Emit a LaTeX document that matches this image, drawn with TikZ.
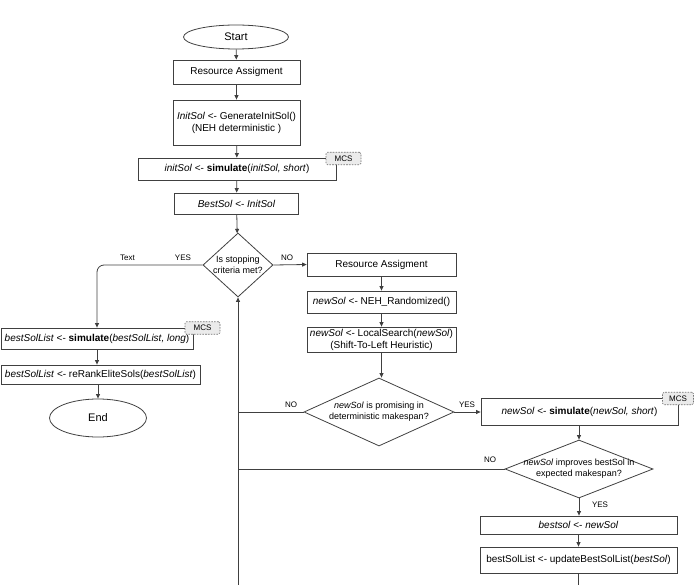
\documentclass[tikz,border=0pt]{standalone}
\usepackage{fontspec}
\setmainfont{Liberation Sans}
\usetikzlibrary{shapes.geometric,arrows.meta}
\begin{document}
\begin{tikzpicture}[x=1pt,y=-1pt,
  line/.style={draw=black!75, line width=0.8pt},
  arr/.style={line, -{Triangle[length=4.5pt,width=4pt]}},
  box/.style={line, rectangle, inner sep=0pt, align=center, font=\fontsize{10}{12}\selectfont},
  term/.style={line, ellipse, inner sep=0pt, font=\fontsize{11}{13}\selectfont},
  dec/.style={line, diamond, inner sep=0pt},
  dectext/.style={align=center, inner sep=0pt, font=\fontsize{9}{11}\selectfont},
  lbl/.style={inner sep=0pt, font=\fontsize{8}{10}\selectfont},
  tag/.style={draw=black!55, line width=0.6pt, dash pattern=on 1.6pt off 1.2pt, fill=black!8, rounded corners=1.5pt, inner sep=0pt, minimum height=12.5pt, font=\fontsize{8}{10}\selectfont}
]
\useasboundingbox (0,0) rectangle (696,585);

% main column
\node[term, minimum width=105pt, minimum height=24pt] (start) at (236,37) {Start};
\node[box, minimum width=127pt, minimum height=24pt] (ra1) at (236.5,72) {Resource Assigment};
\node[box, minimum width=127pt, minimum height=45pt] (init) at (236.5,122.5) {\textit{InitSol} <- GenerateInitSol()\\(NEH deterministic )};
\node[box, minimum width=198pt, minimum height=22pt] (sim1) at (237,169) {\textit{initSol} <- \textbf{simulate}(\textit{initSol, short})};
\node[box, minimum width=124pt, minimum height=21pt] (best) at (236.5,203.5) {\textit{BestSol} <- \textit{InitSol}};
\node[dec, minimum width=70pt, minimum height=64pt, label={[dectext]center:Is stopping\\criteria met?}] (d1) at (238,265) {};

% left branch
\node[box, minimum width=192pt, minimum height=21pt] (sim2) at (97,338.5) {\textit{bestSolList} <- \textbf{simulate}(\textit{bestSolList, long})};
\node[box, minimum width=199pt, minimum height=19pt] (rerank) at (100.5,374.5) {\textit{bestSolList} <- reRankEliteSols(\textit{bestSolList})};
\node[term, minimum width=97pt, minimum height=38pt] (end) at (98,418) {End};

% right branch
\node[box, minimum width=149pt, minimum height=23pt] (ra2) at (381.5,264.5) {Resource Assigment};
\node[box, minimum width=149pt, minimum height=22pt] (neh) at (381.5,302) {\textit{newSol} <- NEH\_Randomized()};
\node[box, minimum width=149pt, minimum height=25pt] (ls) at (381.5,339.5) {\textit{newSol} <- LocalSearch(\textit{newSol})\\(Shift-To-Left Heuristic)};
\node[dec, minimum width=150pt, minimum height=68pt, label={[dectext]center:\textit{newSol} is promising in\\deterministic makespan?}] (d2) at (379,412) {};
\node[box, minimum width=197pt, minimum height=27pt] (sim3) at (579.5,411.5) {\textit{newSol} <- \textbf{simulate}(\textit{newSol, short})};
\node[dec, minimum width=148pt, minimum height=58pt, label={[dectext]center:\textit{newSol} improves bestSol in\\expected makespan?}] (d3) at (579,469) {};
\node[box, minimum width=197pt, minimum height=18pt] (bs) at (578.5,525) {\textit{bestsol} <- \textit{newSol}};
\node[box, minimum width=197pt, minimum height=26pt] (upd) at (578.5,560) {bestSolList <- updateBestSolList(\textit{bestSol})};

% MCS tags
\node[tag, minimum width=35pt] (mcs1) at (343.5,158.5) {MCS};
\node[tag, minimum width=35pt] (mcs2) at (202.5,328) {MCS};
\node[tag, minimum width=31pt] (mcs3) at (678,398.5) {MCS};

\coordinate (bot1) at (238,585);

% connectors
\draw[arr] (start) -- (ra1);
\draw[arr] (ra1) -- (init);
\draw[arr] (init) -- (sim1);
\draw[arr] (sim1) -- (best);
\draw[arr] (best) -- (d1);
\draw[arr, rounded corners=7pt] (d1.west) -| (sim2.north);
\draw[arr] (sim2) -- (rerank.north -| sim2.south);
\draw[arr] (rerank.south -| end.north) -- (end);
\draw[arr] (d1.east) -- (ra2.west);
\draw[arr] (ra2) -- (neh);
\draw[arr] (neh) -- (ls);
\draw[arr] (ls) -- (d2.north -| ls.south);
\draw[arr] (d2.east) -- (d2.east -| sim3.west);
\draw[line] (d2.west) -- (d2.west -| d1.south);
\draw[arr] (sim3.south -| d3.north) -- (d3.north);
\draw[line] (d3.west) -- (d3.west -| d1.south);
\draw[arr] (d3.south) -- (bs.north -| d3.south);
\draw[arr] (bs) -- (upd);
\draw[line] (upd.south) -- (upd.south |- bot1);
\draw[arr] (bot1) -- (d1.south);

% labels
\node[lbl] at (127.5,258) {Text};
\node[lbl] at (183,258) {YES};
\node[lbl] at (287,258) {NO};
\node[lbl] at (291,405) {NO};
\node[lbl] at (467,405) {YES};
\node[lbl] at (490,460) {NO};
\node[lbl] at (600,505) {YES};
\end{tikzpicture}
\end{document}
